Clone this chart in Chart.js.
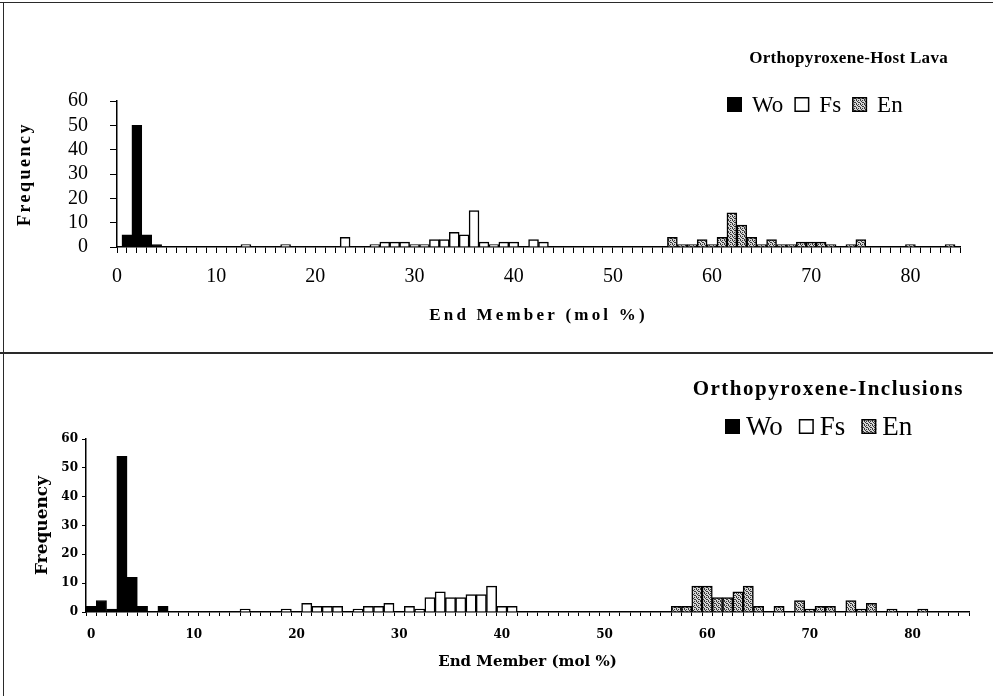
<!DOCTYPE html>
<html>
<head>
<meta charset="utf-8">
<title>Orthopyroxene end members</title>
<script src="https://cdn.jsdelivr.net/npm/chart.js@4.4.1/dist/chart.umd.min.js"></script>
<style>
  html, body { margin: 0; padding: 0; background: #fff; }
  #page { position: relative; width: 993px; height: 696px; overflow: hidden; background: #fff; }
  .panel { position: absolute; left: 0; width: 993px; }
  #topPanel { top: 0; height: 353px; }
  #bottomPanel { top: 353px; height: 343px; }
  .rule { position: absolute; background: #2a2a2a; }
</style>
</head>
<body>
<div id="page">
  <div class="panel" id="topPanel"><canvas id="hostLava"></canvas></div>
  <div class="panel" id="bottomPanel"><canvas id="inclusions"></canvas></div>
  <div class="rule" style="left:0;top:2px;width:993px;height:1px"></div>
  <div class="rule" style="left:3px;top:2px;width:1px;height:694px"></div>
  <div class="rule" style="left:0;top:352px;width:993px;height:2px"></div>
</div>
<script>
// categories (mol % bins)
var bins = [0, 1, 2, 3, 4, 5, 6, 7, 8, 9, 10, 11, 12, 13, 14, 15, 16, 17, 18, 19,
            20, 21, 22, 23, 24, 25, 26, 27, 28, 29, 30, 31, 32, 33, 34, 35, 36, 37, 38, 39,
            40, 41, 42, 43, 44, 45, 46, 47, 48, 49, 50, 51, 52, 53, 54, 55, 56, 57, 58, 59,
            60, 61, 62, 63, 64, 65, 66, 67, 68, 69, 70, 71, 72, 73, 74, 75, 76, 77, 78, 79,
            80, 81, 82, 83, 84, 85];
var seriesNames = ['Wo', 'Fs', 'En'];
var yTicks = [0, 10, 20, 30, 40, 50, 60];

// Orthopyroxene-Host Lava
var lavaWoBins = [1, 2, 3, 4];
var lavaWoFreq = [5, 50, 5, 1];
var lavaFsBins = [13, 17, 23, 26, 27, 28, 29, 30, 31, 32, 33, 34, 35, 36, 37, 38, 39, 40, 42, 43];
var lavaFsFreq = [1, 1, 4, 1, 2, 2, 2, 1, 1, 3, 3, 6, 5, 15, 2, 1, 2, 2, 3, 2];
var lavaEnBins = [56, 57, 58, 59, 60, 61, 62, 63, 64, 65, 66, 67, 68, 69, 70, 71, 72, 74, 75, 80, 84];
var lavaEnFreq = [4, 1, 1, 3, 1, 4, 14, 9, 4, 1, 3, 1, 1, 2, 2, 2, 1, 1, 3, 1, 1];

// Orthopyroxene-Inclusions
var inclWoBins = [0, 1, 2, 3, 4, 5, 7];
var inclWoFreq = [2, 4, 1, 54, 12, 2, 2];
var inclFsBins = [15, 19, 21, 22, 23, 24, 26, 27, 28, 29, 31, 32, 33, 34, 35, 36, 37, 38, 39, 40, 41];
var inclFsFreq = [1, 1, 3, 2, 2, 2, 1, 2, 2, 3, 2, 1, 5, 7, 5, 5, 6, 6, 9, 2, 2];
var inclEnBins = [57, 58, 59, 60, 61, 62, 63, 64, 65, 67, 69, 70, 71, 72, 74, 75, 76, 78, 81];
var inclEnFreq = [2, 2, 9, 9, 5, 5, 7, 9, 2, 2, 4, 1, 2, 2, 4, 1, 3, 1, 1];

// put the (bin, count) pairs onto the category list
function onBins(binList, freqList) {
  return bins.map(function(b) {
    var k = binList.indexOf(b);
    return k < 0 ? null : freqList[k];
  });
}

// grey stipple used for En
function stipple() {
  var c = document.createElement('canvas');
  c.width = 4; c.height = 4;
  var g = c.getContext('2d');
  g.fillStyle = '#d6d6d6';
  g.fillRect(0, 0, 4, 4);
  g.fillStyle = '#383838';
  [[0, 0], [2, 0], [1, 1], [3, 2], [0, 3], [2, 2]].forEach(function(p) {
    g.fillRect(p[0], p[1], 1, 1);
  });
  return g.createPattern(c, 'repeat');
}
var enFill = stipple();

// letter spacing for the axis titles
var spacedTitles = {
  id: 'spacedTitles',
  afterLayout: function(chart, args, opts) {
    Object.keys(chart.scales).forEach(function(id) {
      var s = chart.scales[id];
      if (s._spaced) return;
      var orig = s.drawTitle;
      s.drawTitle = function() {
        var ctx = this.ctx;
        ctx.save();
        ctx.letterSpacing = opts[id] || '0px';
        orig.apply(this, arguments);
        ctx.letterSpacing = '0px';
        ctx.restore();
      };
      s._spaced = true;
    });
  }
};

// heading at top right and the small legend under it
var headingLegend = {
  id: 'headingLegend',
  afterDraw: function(chart, args, o) {
    var ctx = chart.ctx;
    ctx.save();
    ctx.fillStyle = '#000';
    ctx.font = o.titleFont;
    ctx.letterSpacing = o.titleSpacing;
    ctx.textAlign = 'right';
    ctx.textBaseline = 'alphabetic';
    ctx.fillText(o.text, o.titleRight, o.titleBaseline);
    ctx.letterSpacing = '0px';
    ctx.font = o.legendFont;
    ctx.textAlign = 'left';
    var x = o.legendLeft;
    chart.data.datasets.forEach(function(ds) {
      ctx.fillStyle = ds.backgroundColor;
      ctx.fillRect(x, o.boxTop, o.boxSize, o.boxSize);
      ctx.lineWidth = 1.5;
      ctx.strokeStyle = '#000';
      ctx.strokeRect(x + 0.75, o.boxTop + 0.75, o.boxSize - 1.5, o.boxSize - 1.5);
      x += o.boxSize + o.boxGap;
      ctx.fillStyle = '#000';
      ctx.fillText(ds.label, x, o.legendBaseline);
      x += ctx.measureText(ds.label).width + o.itemGap;
    });
    ctx.restore();
  }
};

function datasets(wo, fs, en) {
  return [
    { label: seriesNames[0], data: wo, backgroundColor: '#000', borderColor: '#000', borderWidth: 1 },
    { label: seriesNames[1], data: fs, backgroundColor: '#fff', borderColor: '#000', borderWidth: 1.5 },
    { label: seriesNames[2], data: en, backgroundColor: enFill, borderColor: '#000', borderWidth: 1.5 }
  ];
}

function tenLabels(v) {
  var lab = Number(this.getLabelForValue(v));
  return lab % 10 === 0 ? String(lab) : '';
}

Chart.defaults.color = '#000';
Chart.defaults.animation = false;

// top: Host Lava
new Chart(document.getElementById('hostLava'), {
  type: 'bar',
  data: {
    labels: bins,
    datasets: datasets(onBins(lavaWoBins, lavaWoFreq), onBins(lavaFsBins, lavaFsFreq), onBins(lavaEnBins, lavaEnFreq))
  },
  options: {
    responsive: true,
    maintainAspectRatio: false,
    events: [],
    barPercentage: 1,
    categoryPercentage: 1,
    layout: { padding: { left: 10, right: 33, top: 101, bottom: 27 } },
    scales: {
      x: {
        stacked: true,
        offset: false,
        grid: { offset: false, drawOnChartArea: false, drawTicks: true, tickLength: 6, color: '#000' },
        border: { display: true, color: '#000', width: 1.5 },
        ticks: { autoSkip: false, maxRotation: 0, padding: 12, callback: tenLabels,
                 font: { family: '"Liberation Serif", "Times New Roman", serif', size: 20 } },
        title: { display: true, text: 'End Member (mol %)', padding: 0,
                 font: { family: '"Liberation Serif", "Times New Roman", serif', size: 17, weight: 'bold' } },
        afterFit: function(s) { s.height = 79; }
      },
      y: {
        stacked: true,
        min: 0, max: 60,
        afterBuildTicks: function(s) { s.ticks = yTicks.map(function(v) { return { value: v }; }); },
        grid: { drawOnChartArea: false, drawTicks: true, tickLength: 7, color: '#000' },
        border: { display: true, color: '#000', width: 1.5 },
        ticks: { autoSkip: false, padding: 22, font: { family: '"Liberation Serif", "Times New Roman", serif', size: 20 } },
        title: { display: true, text: 'Frequency', padding: { top: 5, bottom: 0 },
                 font: { family: '"Liberation Serif", "Times New Roman", serif', size: 18, weight: 'bold' } },
        afterFit: function(s) { s.width = 107; }
      }
    },
    plugins: {
      legend: { display: false },
      tooltip: { enabled: false },
      spacedTitles: { x: '3.2px', y: '2.5px' },
      headingLegend: {
        text: 'Orthopyroxene-Host Lava',
        titleFont: 'bold 17px "Liberation Serif", serif',
        titleSpacing: '0.3px',
        titleRight: 948, titleBaseline: 63,
        legendFont: '23px "Liberation Serif", serif',
        legendLeft: 727, boxTop: 97, boxSize: 15, boxGap: 10, itemGap: 11, legendBaseline: 112
      }
    }
  },
  plugins: [spacedTitles, headingLegend]
});

// bottom: Inclusions
new Chart(document.getElementById('inclusions'), {
  type: 'bar',
  data: {
    labels: bins,
    datasets: datasets(onBins(inclWoBins, inclWoFreq), onBins(inclFsBins, inclFsFreq), onBins(inclEnBins, inclEnFreq))
  },
  options: {
    responsive: true,
    maintainAspectRatio: false,
    events: [],
    barPercentage: 1,
    categoryPercentage: 1,
    layout: { padding: { left: 10, right: 24, top: 86, bottom: 25 } },
    scales: {
      x: {
        stacked: true,
        offset: true,
        grid: { offset: true, drawOnChartArea: false, drawTicks: true, tickLength: 4, color: '#000' },
        border: { display: true, color: '#000', width: 1.5 },
        ticks: { autoSkip: false, maxRotation: 0, padding: 12, callback: tenLabels,
                 font: { family: '"DejaVu Serif", serif', size: 12, weight: 'bold' } },
        title: { display: true, text: 'End Member (mol %)', padding: 0,
                 font: { family: '"DejaVu Serif", serif', size: 15, weight: 'bold' } },
        afterFit: function(s) { s.height = 59; }
      },
      y: {
        stacked: true,
        min: 0, max: 60,
        afterBuildTicks: function(s) { s.ticks = yTicks.map(function(v) { return { value: v }; }); },
        grid: { drawOnChartArea: false, drawTicks: true, tickLength: 4, color: '#000' },
        border: { display: true, color: '#000', width: 1.5 },
        ticks: { autoSkip: false, padding: 4, font: { family: '"DejaVu Serif", serif', size: 12, weight: 'bold' } },
        title: { display: true, text: 'Frequency', padding: { top: 22, bottom: 0 },
                 font: { family: '"DejaVu Serif", serif', size: 17, weight: 'bold' } },
        afterFit: function(s) { s.width = 76; }
      }
    },
    plugins: {
      legend: { display: false },
      tooltip: { enabled: false },
      spacedTitles: { x: '0px', y: '0px' },
      headingLegend: {
        text: 'Orthopyroxene-Inclusions',
        titleFont: 'bold 21px "Liberation Serif", serif',
        titleSpacing: '1.5px',
        titleRight: 964, titleBaseline: 42,
        legendFont: '27px "Liberation Serif", serif',
        legendLeft: 725, boxTop: 66, boxSize: 15, boxGap: 6, itemGap: 16, legendBaseline: 82
      }
    }
  },
  plugins: [spacedTitles, headingLegend]
});
</script>
</body>
</html>
